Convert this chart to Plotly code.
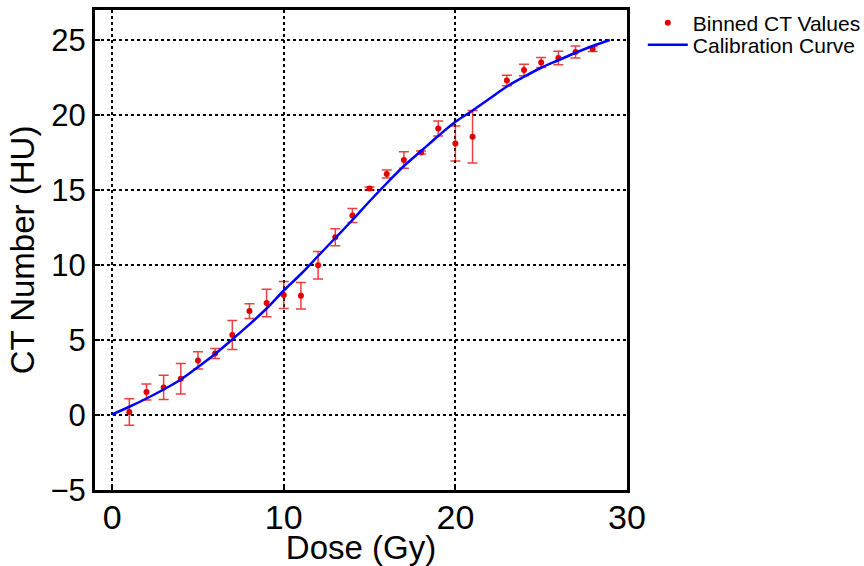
import plotly.graph_objects as go

dose = [1, 2, 3, 4, 5, 6, 7, 8, 9, 10, 11, 12, 13, 14, 15, 16, 17, 18, 19, 20, 21, 23, 24, 25, 26, 27, 28]
ct = [0.2, 1.53, 1.84, 2.42, 3.64, 4.1, 5.33, 6.93, 7.47, 8.0, 7.95, 9.98, 11.85, 13.3, 15.1, 16.07, 17.0, 17.5, 19.1, 18.1, 18.55, 22.3, 23.0, 23.5, 23.8, 24.2, 24.4]
ct_err = [0.89, 0.53, 0.81, 1.02, 0.58, 0.33, 0.97, 0.49, 0.92, 0.9, 0.88, 0.92, 0.57, 0.47, 0.1, 0.27, 0.55, 0.1, 0.5, 1.17, 1.75, 0.35, 0.38, 0.33, 0.45, 0.4, 0.17]

curve_dose = [0, 1, 2, 3, 4, 5, 6, 7, 8, 9, 10, 11, 12, 13, 14, 15, 16, 17, 18, 19, 20, 21, 22, 23, 24, 25, 26, 27, 28, 29]
curve_ct = [0.04, 0.55, 1.1, 1.7, 2.37, 3.2, 4.07, 5.04, 6.04, 7.1, 8.3, 9.4, 10.6, 11.8, 13.0, 14.25, 15.45, 16.6, 17.6, 18.6, 19.55, 20.3, 21.1, 21.9, 22.55, 23.15, 23.65, 24.15, 24.6, 25.0]

x_ticks = [0, 10, 20, 30]
y_ticks = [-5, 0, 5, 10, 15, 20, 25]

FONT = "Liberation Sans, Arial"

fig = go.Figure()
fig.add_trace(go.Scatter(
    x=dose, y=ct, mode="markers", name="Binned CT Values",
    marker=dict(color="#e00000", size=6),
    error_y=dict(type="data", array=ct_err, visible=True,
                 color="rgba(225,0,0,0.75)", thickness=1.5, width=5),
    legend="legend", showlegend=True,
))
fig.add_trace(go.Scatter(
    x=curve_dose, y=curve_ct, mode="lines", name="Calibration Curve",
    line=dict(color="#0000ff", width=2.5, shape="spline"),
    legend="legend2", showlegend=True,
))

axis_common = dict(
    showline=True, linewidth=3, linecolor="black", mirror=True,
    showgrid=True, gridcolor="black", gridwidth=1.5, griddash="dot",
    zeroline=False, ticks="inside", ticklen=5, tickwidth=2, tickcolor="black",
)
fig.update_xaxes(range=[-1, 30], tickvals=x_ticks, automargin=False,
                 ticklabelstandoff=-5,
                 tickfont=dict(family=FONT, size=34, color="black"),
                 title=dict(text="Dose (Gy)", font=dict(family=FONT, size=33, color="black"), standoff=0),
                 **axis_common)
fig.update_yaxes(range=[-5, 27], tickvals=y_ticks,
                 tickfont=dict(family=FONT, size=31, color="black"),
                 title=dict(text="CT Number (HU)", font=dict(family=FONT, size=33, color="black"), standoff=6),
                 **axis_common)

leg_common = dict(x=0.744, xref="container", yref="container",
                  xanchor="left", yanchor="middle",
                  font=dict(family=FONT, size=21, color="black"),
                  bgcolor="rgba(0,0,0,0)", itemwidth=40)

fig.update_layout(
    width=864, height=566,
    margin=dict(l=95, r=237, t=10, b=76),
    paper_bgcolor="white", plot_bgcolor="white",
    font=dict(family=FONT, color="black"),
    showlegend=True,
    legend=dict(y=0.9594, **leg_common),
    legend2=dict(y=0.9205, **leg_common),
)

fig.write_html("out.html")
